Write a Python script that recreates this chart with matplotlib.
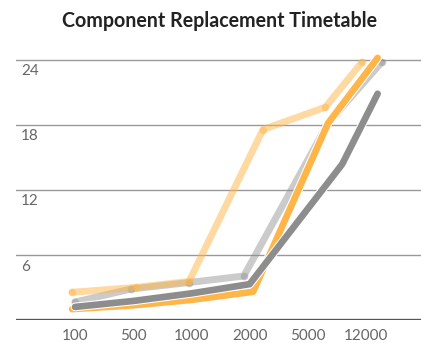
import matplotlib.pyplot as plt
import matplotlib.patheffects as pe

# categories on the x axis
categories = ['100', '500', '1000', '2000', '5000', '12000']
y_ticks = [6, 12, 18, 24]

# series (x given as category position)
light_gray_x = [0.0, 0.96, 1.96, 2.9, 4.35, 5.27]
light_gray_y = [1.7, 2.9, 3.5, 4.1, 18.2, 23.8]

pale_orange_x = [-0.05, 1.05, 1.96, 3.23, 4.3, 4.93]
pale_orange_y = [2.6, 3.05, 3.6, 17.6, 19.65, 23.8]

orange_x = [-0.05, 1.0, 2.0, 3.06, 4.35, 5.2]
orange_y = [1.05, 1.4, 1.9, 2.65, 18.2, 24.2]

dark_gray_x = [0.0, 1.0, 2.0, 3.0, 4.59, 5.2]
dark_gray_y = [1.25, 1.8, 2.5, 3.35, 14.4, 20.9]

orange = '#FFB547'
gray = '#8C8D8C'

fig = plt.figure(figsize=(4.21, 3.43), dpi=100)
ax = fig.add_axes([0.038, 0.0656, 0.962, 0.8225])

ax.set_xlim(-1.014, 5.945)
ax.set_ylim(0, 26)

# grid lines
for v in y_ticks:
    ax.axhline(v, color='#999999', lw=1.0, zorder=1)
    ax.annotate(str(v), xy=(0, v), xycoords=('axes fraction', 'data'),
                xytext=(3.5, -3), textcoords='offset points', ha='left', va='top',
                fontsize=11, color='#666666', family='Lato')
ax.axhline(0, color='#555555', lw=2.4, zorder=6)

# lines
white_edge = [pe.Stroke(linewidth=6.3, foreground='white'), pe.Normal()]
ax.plot(light_gray_x, light_gray_y, color=gray, alpha=0.45, lw=5.0,
        marker='o', ms=5.5, mew=0, solid_capstyle='round', solid_joinstyle='round', zorder=2)
ax.plot(pale_orange_x, pale_orange_y, color=orange, alpha=0.5, lw=5.0,
        marker='o', ms=5.5, mew=0, solid_capstyle='round', solid_joinstyle='round', zorder=3)
ax.plot(orange_x, orange_y, color=orange, lw=4.8, solid_capstyle='round',
        solid_joinstyle='round', zorder=4, path_effects=white_edge)
ax.plot(dark_gray_x, dark_gray_y, color=gray, lw=4.8, solid_capstyle='round',
        solid_joinstyle='round', zorder=5, path_effects=white_edge)

ax.set_xticks(range(len(categories)))
ax.set_xticklabels(categories, fontsize=11, color='#666666', family='Lato')
ax.tick_params(axis='x', length=0, pad=6)
ax.set_yticks([])
for s in ax.spines.values():
    s.set_visible(False)

fig.text(0.521, 0.94, 'Component Replacement Timetable', ha='center', va='center',
         fontsize=14.1, fontweight='bold', color='#222222', family='Lato')

fig.savefig('out.png', dpi=100)
